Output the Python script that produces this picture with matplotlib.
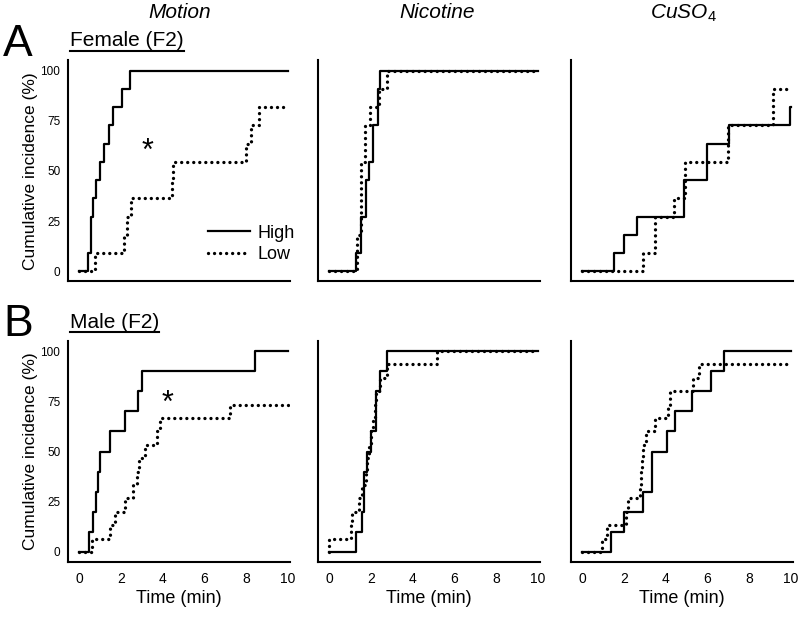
import matplotlib
matplotlib.use("Agg")
import numpy as np
import matplotlib.pyplot as plt
from matplotlib.lines import Line2D

plt.rcParams['font.family'] = ['Liberation Sans', 'DejaVu Sans']
plt.rcParams['mathtext.fontset'] = 'custom'
plt.rcParams['mathtext.it'] = 'Liberation Sans:italic'
plt.rcParams['mathtext.rm'] = 'Liberation Sans'

# event times (min)
treatments = ["Motion", "Nicotine", "CuSO$_\\mathit{4}$"]
groups = ["Female (F2)", "Male (F2)"]
panel_letters = ["A", "B"]

f_motion_high = [0.45, 0.57, 0.57, 0.68, 0.79, 1.0, 1.21, 1.42, 1.61, 2.07, 2.44]
f_motion_low = [0.77, 2.15, 2.28, 2.47, 4.43, 4.51, 7.99, 8.21, 8.63]
f_nicotine_high = [1.31, 1.52, 1.52, 1.76, 1.76, 1.92, 2.08, 2.08, 2.32, 2.32, 2.45]
f_nicotine_low = [1.36, 1.36, 1.52, 1.52, 1.52, 1.52, 1.71, 1.71, 1.97, 2.37, 2.75]
f_cuso4_high = [1.55, 2.02, 2.65, 4.88, 4.88, 5.97, 5.97, 7.03, 9.95]
f_cuso4_low = [2.93, 3.49, 3.49, 4.40, 4.93, 4.93, 7.0, 7.0, 9.15, 9.15]
n_female_high = 11
n_female_low = 11

m_motion_high = [0.49, 0.69, 0.81, 0.89, 1.0, 1.48, 2.2, 2.84, 3.0, 8.42]
m_motion_low = [0.61, 1.48, 1.72, 2.2, 2.6, 2.79, 2.87, 3.16, 3.72, 3.88, 7.22]
m_nicotine_high = [1.31, 1.57, 1.65, 1.65, 1.84, 2.0, 2.27, 2.27, 2.43, 2.77]
m_nicotine_low = [0.0, 1.04, 1.12, 1.44, 1.6, 1.76, 1.84, 1.92, 2.0, 2.11, 2.2,
                  2.27, 2.43, 2.75, 5.15]
m_cuso4_high = [1.37, 2.03, 2.9, 3.33, 3.33, 4.05, 4.45, 5.25, 6.16, 6.79]
m_cuso4_low = [0.94, 1.18, 2.1, 2.22, 2.78, 2.83, 2.87, 2.93, 3.06, 3.49, 4.13,
               4.21, 5.3, 5.61]
n_male_high = 10
n_male_low = 15

high_rows = [[f_motion_high, f_nicotine_high, f_cuso4_high],
             [m_motion_high, m_nicotine_high, m_cuso4_high]]
low_rows = [[f_motion_low, f_nicotine_low, f_cuso4_low],
            [m_motion_low, m_nicotine_low, m_cuso4_low]]
n_high = [n_female_high, n_male_high]
n_low = [n_female_low, n_male_low]

x_ticks = [0, 2, 4, 6, 8, 10]
y_ticks = [0, 25, 50, 75, 100]
t_end = 10


def curve(times, n):
    xs = [0] + list(times) + [t_end]
    k = np.arange(len(times) + 1)
    ys = list(k / n * 100) + [len(times) / n * 100]
    return xs, ys


W, H = 800, 617
fig = plt.figure(figsize=(W / 100, H / 100), dpi=100)


def px_axes(left, top, w, h):
    return fig.add_axes([left / W, 1 - (top + h) / H, w / W, h / H])


col_left = [68, 318, 571]
row_top = [60.5, 341]
aw, ah = 222, 221

dot_style = (0, (0.01, 1.8))

for r in range(2):
    for c in range(3):
        ax = px_axes(col_left[c], row_top[r], aw, ah)
        hx, hy = curve(high_rows[r][c], n_high[r])
        lx, ly = curve(low_rows[r][c], n_low[r])
        ax.step(hx, hy, where='post', color='black', lw=1.6, label='High')
        ax.step(lx, ly, where='post', color='black', lw=2.4,
                linestyle=dot_style, dash_capstyle='round', label='Low')
        ax.set_xlim(-0.53, 10.1)
        ax.set_ylim(-5, 105)
        for s in ['top', 'right']:
            ax.spines[s].set_visible(False)
        for s in ['left', 'bottom']:
            ax.spines[s].set_linewidth(1.5)
        ax.tick_params(length=0)
        ax.set_xticks(x_ticks)
        ax.set_yticks(y_ticks)
        if r == 1:
            ax.tick_params(axis='x', labelsize=10, pad=7)
            ax.set_xlabel("Time (min)", fontsize=13, labelpad=3)
        else:
            ax.set_xticklabels([])
        if c == 0:
            ax.tick_params(axis='y', labelsize=8.5, pad=5.5)
            ax.set_ylabel("Cumulative incidence (%)", fontsize=12.5, labelpad=2)
        else:
            ax.set_yticklabels([])
        if r == 0 and c == 0:
            ax.text(3.3, 59.5, "*", fontsize=22, ha='center', va='center')
            ax.legend(loc='upper left', bbox_to_anchor=(0.6, 0.29),
                      borderaxespad=0, frameon=False, fontsize=13,
                      handlelength=2.3, handletextpad=0.4, labelspacing=0.25)
        if r == 1 and c == 0:
            ax.text(4.22, 73.5, "*", fontsize=22, ha='center', va='center')

title_x = [180, 437, 683]
for c in range(3):
    fig.text(title_x[c] / W, 1 - 13 / H, treatments[c], fontsize=15,
             style='italic', ha='center', va='center')

letter_y = [44, 325]
group_y = [41, 322]
fig.canvas.draw()
renderer = fig.canvas.get_renderer()
for r in range(2):
    fig.text(3 / W, 1 - letter_y[r] / H, panel_letters[r], fontsize=32,
             ha='left', va='center')
    t = fig.text(70 / W, 1 - group_y[r] / H, groups[r], fontsize=15,
                 ha='left', va='center')
    bb = t.get_window_extent(renderer)
    uy = 1 - (group_y[r] + 10) / H
    fig.add_artist(Line2D([bb.x0 / W, bb.x1 / W], [uy, uy], color='black',
                          lw=1.5, transform=fig.transFigure))

fig.savefig("out.png", dpi=100)
